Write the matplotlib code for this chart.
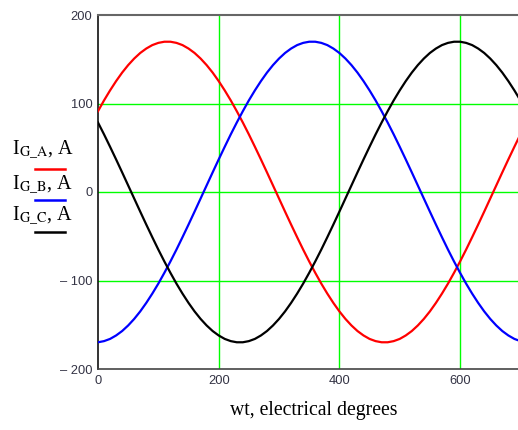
import matplotlib
matplotlib.use("Agg")
import matplotlib.pyplot as plt

plt.rcParams['font.family'] = ['Liberation Serif', 'DejaVu Serif']
plt.rcParams['mathtext.fontset'] = 'stix'

wt = list(range(0, 701, 10))

i_a = [91.3, 103.5, 114.8, 125.3, 134.9, 143.4, 150.8, 157.1, 162.1, 166.0,
       168.5, 169.8, 169.8, 168.5, 166.0, 162.1, 157.1, 150.8, 143.4, 134.9,
       125.3, 114.8, 103.5, 91.3, 78.5, 65.1, 51.1, 36.8, 22.2, 7.4,
       -7.4, -22.2, -36.8, -51.1, -65.1, -78.5, -91.3, -103.5, -114.8, -125.3,
       -134.9, -143.4, -150.8, -157.1, -162.1, -166.0, -168.5, -169.8, -169.8, -168.5,
       -166.0, -162.1, -157.1, -150.8, -143.4, -134.9, -125.3, -114.8, -103.5, -91.3,
       -78.5, -65.1, -51.1, -36.8, -22.2, -7.4, 7.4, 22.2, 36.8, 51.1,
       65.1]

i_b = [-169.8, -168.5, -166.0, -162.1, -157.1, -150.8, -143.4, -134.9, -125.3, -114.8,
       -103.5, -91.3, -78.5, -65.1, -51.1, -36.8, -22.2, -7.4, 7.4, 22.2,
       36.8, 51.1, 65.1, 78.5, 91.3, 103.5, 114.8, 125.3, 134.9, 143.4,
       150.8, 157.1, 162.1, 166.0, 168.5, 169.8, 169.8, 168.5, 166.0, 162.1,
       157.1, 150.8, 143.4, 134.9, 125.3, 114.8, 103.5, 91.3, 78.5, 65.1,
       51.1, 36.8, 22.2, 7.4, -7.4, -22.2, -36.8, -51.1, -65.1, -78.5,
       -91.3, -103.5, -114.8, -125.3, -134.9, -143.4, -150.8, -157.1, -162.1, -166.0,
       -168.5]

i_c = [78.5, 65.1, 51.1, 36.8, 22.2, 7.4, -7.4, -22.2, -36.8, -51.1,
       -65.1, -78.5, -91.3, -103.5, -114.8, -125.3, -134.9, -143.4, -150.8, -157.1,
       -162.1, -166.0, -168.5, -169.8, -169.8, -168.5, -166.0, -162.1, -157.1, -150.8,
       -143.4, -134.9, -125.3, -114.8, -103.5, -91.3, -78.5, -65.1, -51.1, -36.8,
       -22.2, -7.4, 7.4, 22.2, 36.8, 51.1, 65.1, 78.5, 91.3, 103.5,
       114.8, 125.3, 134.9, 143.4, 150.8, 157.1, 162.1, 166.0, 168.5, 169.8,
       169.8, 168.5, 166.0, 162.1, 157.1, 150.8, 143.4, 134.9, 125.3, 114.8,
       103.5]

x_ticks = [0, 200, 400, 600]
x_labels = ["0", "200", "400", "600"]
y_ticks = [-200, -100, 0, 100, 200]
y_labels = ["\u2013 200", "\u2013 100", "0", "100", "200"]

series_labels = [r"I$_{\mathrm{G\_A}}$, A", r"I$_{\mathrm{G\_B}}$, A", r"I$_{\mathrm{G\_C}}$, A"]
series_colors = ["#ff0000", "#0000ff", "#000000"]

W, H = 518, 430
fig = plt.figure(figsize=(W / 100, H / 100), dpi=100)
ax = fig.add_axes([98 / W, (H - 369) / H, (W - 98) / W, (369 - 15) / H])

for y, c in zip([i_a, i_b, i_c], series_colors):
    ax.plot(wt, y, color=c, lw=1.6, zorder=3, solid_joinstyle='round')

ax.set_xlim(0, 696)
ax.set_ylim(-200, 200)
ax.set_xticks(x_ticks)
ax.set_xticklabels(x_labels)
ax.set_yticks(y_ticks)
ax.set_yticklabels(y_labels)
ax.tick_params(length=0, labelsize=9.3, labelcolor='#333344', pad=4)
tick_font = ['Liberation Sans Narrow', 'Liberation Sans', 'DejaVu Sans']
for lbl in ax.get_xticklabels() + ax.get_yticklabels():
    lbl.set_family(tick_font)

for v in [200, 400, 600]:
    ax.axvline(v, color='#00ff00', lw=1.0, zorder=1)
for v in [-100, 0, 100]:
    ax.axhline(v, color='#00ff00', lw=1.0, zorder=1)

ax.spines['right'].set_visible(False)
ax.spines['left'].set_color('#111111')
ax.spines['left'].set_linewidth(1.2)
ax.spines['bottom'].set_color('#444444')
ax.spines['bottom'].set_linewidth(1.2)
ax.spines['top'].set_color('#666666')
ax.spines['top'].set_linewidth(1.5)

# axis label
fig.text(314 / W, 1 - 410 / H, "wt, electrical degrees", ha='center', va='center', fontsize=14.2)

# legend on the left
label_y = [150, 185, 216]
line_y = [169, 200, 232]
for lab, c, ly, lny in zip(series_labels, series_colors, label_y, line_y):
    fig.text(12 / W, 1 - ly / H, lab, ha='left', va='center', fontsize=14.5)
    fig.add_artist(plt.Line2D([35 / W, 65 / W], [1 - lny / H, 1 - lny / H],
                              color=c, lw=1.8, transform=fig.transFigure))

fig.savefig("out.png", dpi=100)
